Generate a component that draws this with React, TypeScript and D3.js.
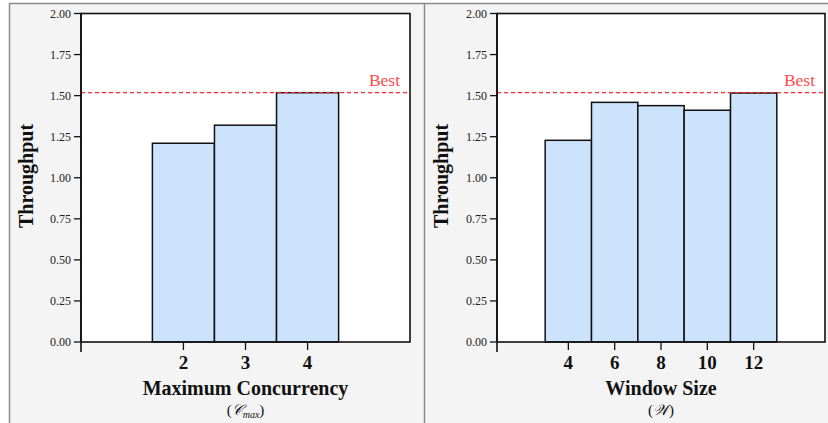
import React from "react";
import * as d3 from "d3";

const concurrencyCats = [2, 3, 4];
const concurrencyVals = [1.21, 1.32, 1.518];
const windowCats = [4, 6, 8, 10, 12];
const windowVals = [1.228, 1.459, 1.439, 1.411, 1.516];
const yTicks = [0, 0.25, 0.5, 0.75, 1.0, 1.25, 1.5, 1.75, 2.0];
const bestLeft = 1.518;
const bestRight = 1.518;

const W = 828;
const H = 423;
const FONT = "'Liberation Serif', 'Times New Roman', serif";

type PanelProps = {
  x0: number;
  x1: number;
  cats: number[];
  vals: number[];
  step: number;
  domain: [number, number];
  best: number;
  title: string;
  sym: React.ReactNode;
  ylabX: number;
};

function Panel({ x0, x1, cats, vals, step, domain, best, title, sym, ylabX }: PanelProps) {
  const top = 13.5;
  const bottom = 342;
  const x = d3.scaleLinear().domain(domain).range([x0, x1]);
  const y = d3.scaleLinear().domain([0, 2]).range([bottom, top]);
  const cx = (x0 + x1) / 2;
  return (
    <g>
      <rect x={x0} y={top} width={x1 - x0} height={bottom - top} fill="#fff" />
      {cats.map((c, i) => (
        <rect
          key={c}
          x={x(c - step / 2)}
          y={y(vals[i])}
          width={x(c + step / 2) - x(c - step / 2)}
          height={y(0) - y(vals[i])}
          fill="#cce4fb"
          stroke="#111"
          strokeWidth={1.5}
        />
      ))}
      <line x1={x0} x2={x1} y1={y(best)} y2={y(best)} stroke="#ff2a2a" strokeWidth={1.3} strokeDasharray="4,3" />
      <text x={x1 - 10} y={y(best) - 7} textAnchor="end" fontFamily={FONT} fontSize={17.5} fill="#ff4d4d">
        Best
      </text>
      <rect x={x0} y={top} width={x1 - x0} height={bottom - top} fill="none" stroke="#111" strokeWidth={1.6} />
      {/* y axis */}
      <line x1={x0} x2={x0} y1={top} y2={bottom + 10} stroke="#111" strokeWidth={1.6} />
      {yTicks.map((t) => (
        <g key={t}>
          <line x1={x0 - 7} x2={x0} y1={y(t)} y2={y(t)} stroke="#111" strokeWidth={1.3} />
          <text x={x0 - 10} y={y(t) + 4} textAnchor="end" fontFamily={FONT} fontSize={12} fill="#222">
            {d3.format(".2f")(t)}
          </text>
        </g>
      ))}
      {cats.map((c) => (
        <g key={c}>
          <line x1={x(c)} x2={x(c)} y1={bottom} y2={bottom + 8} stroke="#111" strokeWidth={1.3} />
          <text x={x(c)} y={369} textAnchor="middle" fontFamily={FONT} fontSize={19} fontWeight="bold" fill="#111">
            {c}
          </text>
        </g>
      ))}
      <text x={cx} y={395} textAnchor="middle" fontFamily={FONT} fontSize={20} fontWeight="bold" fill="#111">
        {title}
      </text>
      <text x={cx} y={415} textAnchor="middle" fontFamily={FONT} fontSize={15} fill="#111">
        {sym}
      </text>
      <text
        transform={`translate(${ylabX},${176}) rotate(-90)`}
        textAnchor="middle"
        fontFamily={FONT}
        fontSize={20}
        fontWeight="bold"
        fill="#111"
      >
        Throughput
      </text>
    </g>
  );
}

export default function App() {
  return (
    <svg width={W} height={H} style={{ position: "absolute", left: 0, top: 0, display: "block" }}>
      <rect x={0} y={0} width={W} height={H} fill="#fff" />
      <rect x={9} y={3} width={W - 9} height={H - 3} fill="#f4f4f4" />
      <line x1={9} x2={W} y1={3.5} y2={3.5} stroke="#8a8a8a" strokeWidth={1.5} />
      <line x1={9.5} x2={9.5} y1={3} y2={H} stroke="#8a8a8a" strokeWidth={1.5} />
      <line x1={424.5} x2={424.5} y1={3} y2={H} stroke="#8a8a8a" strokeWidth={1.5} />
      <Panel
        x0={81}
        x1={410}
        cats={concurrencyCats}
        vals={concurrencyVals}
        step={1}
        domain={[0.35, 5.65]}
        best={bestLeft}
        title="Maximum Concurrency"
        sym={
          <>
            (<tspan fontStyle="italic">𝒞</tspan>
            <tspan fontStyle="italic" fontSize={10} dy={3}>max</tspan>
            <tspan dy={-3}>)</tspan>
          </>
        }
        ylabX={33}
      />
      <Panel
        x0={497}
        x1={825}
        cats={windowCats}
        vals={windowVals}
        step={2}
        domain={[0.92, 15.08]}
        best={bestRight}
        title="Window Size"
        sym={
          <>
            (<tspan fontStyle="italic">𝒲</tspan>)
          </>
        }
        ylabX={448}
      />
    </svg>
  );
}
